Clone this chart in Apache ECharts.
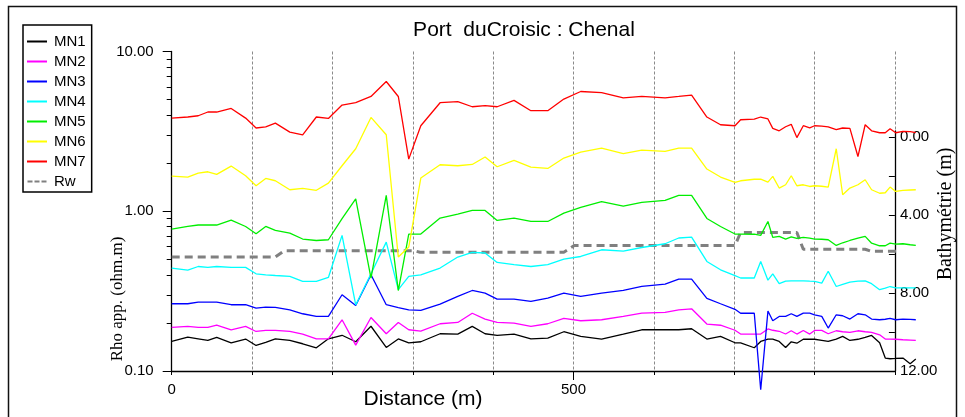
<!DOCTYPE html>
<html>
<head>
<meta charset="utf-8">
<script src="https://cdn.jsdelivr.net/npm/echarts@6/dist/echarts.min.js"></script>
<style>
html,body{margin:0;padding:0;background:#fff;}
#chart{width:965px;height:417px;}
</style>
</head>
<body>
<div id="chart"></div>
<script>
const chartTitle = 'Port  duCroisic : Chenal';
const seriesNames = ['MN1','MN2','MN3','MN4','MN5','MN6','MN7'];
const seriesColors = ['#000000','#ff00ff','#0000ff','#00ffff','#00ee00','#ffff00','#ff0000'];

const distance = [0,20,33,45,56,74,92,105,117,129,147,163,180,195,212,229,248,267,282,295,
310,334,356,374,390,405,426,447,468,488,509,535,562,585,614,631,647,666,683,701,
708,725,733,742,748,756,764,771,778,786,794,800,809,817,827,835,844,854,863,871,
881,888,894,901,910,919,926];

const mn1 = [0.1531,0.1627,0.1591,0.1553,0.1622,0.1502,0.1585,0.1445,0.1509,0.1587,
0.1553,0.1481,0.1398,0.1591,0.1674,0.1524,0.1906,0.1404,0.1587,0.1502,
0.1524,0.1711,0.1703,0.1901,0.1711,0.1669,0.1703,0.1591,0.1607,0.1761,
0.1646,0.1585,0.1703,0.1812,0.1812,0.1812,0.1838,0.1585,0.1646,0.1502,
0.1502,0.1398,0.1531,0.1585,0.1585,0.1531,0.1404,0.1524,0.1492,0.1580,
0.1580,0.1580,0.1557,0.1531,0.1585,0.1646,0.1553,0.1580,0.1622,0.1669,
0.1502,0.1205,0.1193,0.1198,0.1205,0.1110,0.1188];

const mn2 = [0.1873,0.1901,0.1873,0.1873,0.1939,0.1812,0.1901,0.1768,0.1794,0.1794,
0.1768,0.1703,0.1591,0.1591,0.2093,0.1453,0.2164,0.1711,0.2013,0.1812,
0.1778,0.1976,0.2013,0.2298,0.2114,0.2013,0.1996,0.1901,0.1976,0.2133,
0.2063,0.2093,0.2196,0.2305,0.2325,0.2416,0.2452,0.1967,0.1934,0.1799,
0.1703,0.1703,0.1703,0.1833,0.1799,0.1773,0.1705,0.1786,0.1703,0.1794,
0.1703,0.1794,0.1794,0.1711,0.1786,0.1761,0.1743,0.1786,0.1761,0.1743,
0.1686,0.1585,0.1585,0.1580,0.1569,0.1562,0.1553];

const mn3 = [0.2636,0.2636,0.2701,0.2701,0.2701,0.2599,0.2599,0.2478,0.2514,0.2500,
0.2416,0.2282,0.2196,0.2196,0.3001,0.2573,0.400,0.2599,0.2495,0.2416,
0.2393,0.2625,0.2928,0.3192,0.3075,0.2821,0.2821,0.2725,0.2862,0.3075,
0.2928,0.3075,0.3192,0.3383,0.3502,0.3763,0.3763,0.2845,0.2636,0.2434,
0.2298,0.2298,0.0763,0.2372,0.2063,0.2196,0.2196,0.2282,0.2196,0.2305,
0.2305,0.2249,0.2196,0.1857,0.2249,0.2217,0.2114,0.2282,0.2249,0.2114,
0.2093,0.2108,0.2133,0.2093,0.2114,0.2102,0.2093];

const mn4 = [0.441,0.428,0.451,0.445,0.451,0.445,0.445,0.406,0.400,0.396,
0.391,0.364,0.364,0.385,0.706,0.259,0.406,0.641,0.323,0.391,
0.400,0.441,0.517,0.552,0.548,0.478,0.463,0.451,0.463,0.502,
0.521,0.574,0.563,0.593,0.626,0.680,0.689,0.485,0.430,0.395,
0.382,0.382,0.485,0.370,0.406,0.352,0.365,0.367,0.367,0.367,
0.365,0.364,0.355,0.421,0.338,0.349,0.360,0.365,0.367,0.352,
0.323,0.330,0.338,0.331,0.331,0.331,0.331];

const mn5 = [0.774,0.803,0.820,0.820,0.820,0.881,0.803,0.723,0.803,0.758,
0.730,0.670,0.656,0.663,0.898,1.197,0.382,1.256,0.319,0.720,
0.720,0.907,0.961,1.012,1.012,0.876,0.907,0.863,0.863,0.974,
1.056,1.147,1.075,1.135,1.169,1.256,1.256,0.901,0.803,0.720,
0.720,0.718,0.706,0.863,0.686,0.696,0.670,0.692,0.676,0.686,
0.678,0.670,0.668,0.663,0.611,0.635,0.656,0.678,0.696,0.631,
0.608,0.608,0.632,0.623,0.626,0.617,0.611];

const mn6 = [1.661,1.637,1.734,1.767,1.700,1.918,1.668,1.444,1.605,1.552,
1.363,1.389,1.353,1.501,1.927,2.462,3.867,3.012,0.517,0.597,
1.614,1.955,1.927,1.963,2.184,1.899,2.080,1.891,1.853,2.153,
2.348,2.487,2.291,2.416,2.367,2.487,2.487,1.837,1.637,1.514,
1.552,1.586,1.591,1.523,1.652,1.397,1.465,1.668,1.444,1.465,
1.429,1.444,1.434,1.417,2.462,1.268,1.397,1.465,1.575,1.363,
1.296,1.306,1.417,1.330,1.350,1.358,1.363];

const mn7 = [3.83,3.89,3.96,4.18,4.18,4.40,3.83,3.32,3.37,3.56,
3.13,3.01,3.89,3.81,4.62,4.78,5.23,6.49,5.23,2.12,
3.43,4.78,4.85,4.51,4.59,4.51,4.94,4.26,4.26,5.04,
5.62,5.52,5.13,5.23,5.13,5.23,5.34,3.89,3.48,3.43,
3.74,3.77,3.89,3.78,3.30,3.19,3.38,3.50,2.89,3.43,
3.33,3.43,3.41,3.37,3.24,3.32,3.30,2.20,3.48,3.19,
3.10,3.10,3.28,3.10,3.16,3.15,3.11];

const rwDistance = [0,129,140,302,309,488,501,701,708,778,786,863,870,906];
const rwValues = [0.517,0.517,0.566,0.566,0.554,0.554,0.610,0.610,0.737,0.737,0.578,0.578,0.562,0.562];

const xLabelValues = [0, 500];
const leftMinorTicks = [0.2,0.3,0.4,0.5,0.6,0.7,0.8,0.9,2,3,4,5,6,7,8,9];
const bathyTicks = [0,2,4,6,8,10,12];
const bathyLabels = [0,4,8,12];

const mnValues = [mn1, mn2, mn3, mn4, mn5, mn6, mn7];

const SANS = 'Liberation Sans, Arial, sans-serif';
const SERIF = 'Liberation Serif, Times New Roman, serif';

// layout: visible axis frame spans 0..900 m; the data area is widened (same scale) so
// points beyond 900 m are drawn past the right axis, as in the original.
const axisMax = 900, dataMax = 940;
const plotLeft = 171.7, plotWidth = 723.2, plotTop = 51.5, plotBottom = 46;
const dataWidth = plotWidth * dataMax / axisMax;

const series = mnValues.map((vals, i) => ({
  name: seriesNames[i],
  type: 'line',
  xAxisIndex: 0, yAxisIndex: 0,
  data: distance.map((d, j) => [d, vals[j]]),
  symbol: 'none',
  clip: false,
  lineStyle: { color: seriesColors[i], width: 1.3 },
  itemStyle: { color: seriesColors[i] },
  animation: false,
  z: 3
}));
series.push({
  name: 'Rw',
  type: 'line',
  xAxisIndex: 0, yAxisIndex: 0,
  data: rwDistance.map((d, j) => [d, rwValues[j]]),
  symbol: 'none',
  clip: false,
  lineStyle: { color: '#808080', width: 3, type: [8, 5] },
  itemStyle: { color: '#808080' },
  animation: false,
  z: 2
});

const legendData = seriesNames.map(n => ({ name: n, icon: 'rect' }));
legendData.push({ name: 'Rw', icon: 'path://M0,0h5v2h-5z M7,0h5v2h-5z M14,0h5v2h-5z' });

const option = {
  backgroundColor: '#ffffff',
  animation: false,
  grid: [
    { left: plotLeft, width: dataWidth, top: plotTop, bottom: plotBottom },
    { left: plotLeft, width: plotWidth, top: plotTop, bottom: plotBottom },
    { left: plotLeft, width: plotWidth, top: 131, bottom: plotBottom }
  ],
  legend: {
    orient: 'vertical',
    left: 23, top: 25,
    data: legendData,
    selectedMode: false,
    borderColor: '#000', borderWidth: 1.5,
    padding: [9, 6, 3, 4],
    itemGap: 5,
    itemWidth: 20, itemHeight: 2,
    textStyle: { fontSize: 15, color: '#000', fontFamily: SANS, padding: [0, 0, 0, 2] }
  },
  xAxis: [
    { type: 'value', gridIndex: 0, min: 0, max: dataMax, show: false },
    {
      type: 'value', gridIndex: 1, min: 0, max: axisMax, interval: 100,
      axisLine: { show: true, onZero: false, lineStyle: { color: '#000', width: 1.3 } },
      axisTick: { show: true, length: 4, lineStyle: { color: '#000' } },
      axisLabel: { fontSize: 15, color: '#000', fontFamily: SANS, margin: 11,
        formatter: v => (xLabelValues.indexOf(v) >= 0 ? String(v) : '') },
      splitLine: { show: true, lineStyle: { color: '#8a8a8a', type: [3, 2], width: 1 } }
    },
    {
      type: 'value', gridIndex: 1, min: 0, max: axisMax, position: 'bottom',
      axisLine: { show: false },
      axisTick: { show: true, length: 9, customValues: [500], lineStyle: { color: '#000' } },
      axisLabel: { show: false },
      splitLine: { show: false }
    },
    { type: 'value', gridIndex: 2, min: 0, max: axisMax, show: false }
  ],
  yAxis: [
    {
      type: 'log', logBase: 10, gridIndex: 0, min: 0.1, max: 10, position: 'left',
      axisLine: { show: true, onZero: false, lineStyle: { color: '#000', width: 1.3 } },
      axisTick: { show: true, length: 9, lineStyle: { color: '#000' } },
      axisLabel: { fontSize: 15, color: '#000', fontFamily: SANS, margin: 18,
        formatter: v => Number(v).toFixed(2) },
      splitLine: { show: false }
    },
    {
      type: 'value', gridIndex: 0, min: -1, max: 1, position: 'left',
      axisLine: { show: false },
      axisTick: { show: true, length: 5, customValues: leftMinorTicks.map(v => Math.log10(v)), lineStyle: { color: '#000' } },
      axisLabel: { show: false },
      splitLine: { show: false }
    },
    { type: 'value', gridIndex: 1, min: 0, max: 1, show: false },
    {
      type: 'value', gridIndex: 2, min: -0.3, max: 12, inverse: true, position: 'right',
      axisLine: { show: true, onZero: false, lineStyle: { color: '#000', width: 1.3 } },
      axisTick: { show: true, inside: true, length: 6, customValues: bathyTicks, lineStyle: { color: '#000' } },
      axisLabel: { fontSize: 15, color: '#000', fontFamily: SANS, margin: 5,
        customValues: bathyLabels, formatter: v => Number(v).toFixed(2) },
      splitLine: { show: false }
    }
  ],
  graphic: [
    { type: 'rect', shape: { x: 8.5, y: 6.5, width: 948, height: 420 },
      style: { fill: 'none', stroke: '#111', lineWidth: 1.5 }, silent: true, z: 0 },
    { type: 'text', x: 524, y: 30,
      style: { text: chartTitle, fill: '#000', font: '21px ' + SANS, textAlign: 'center', textVerticalAlign: 'middle' } },
    { type: 'text', x: 423, y: 399,
      style: { text: 'Distance (m)', fill: '#000', font: '21px ' + SANS, textAlign: 'center', textVerticalAlign: 'middle' } },
    { type: 'text', x: 118, y: 299, rotation: Math.PI / 2,
      style: { text: 'Rho app. (ohm.m)', fill: '#000', font: '17px ' + SERIF, textAlign: 'center', textVerticalAlign: 'middle' } },
    { type: 'text', x: 946, y: 214, rotation: Math.PI / 2,
      style: { text: 'Bathymétrie (m)', fill: '#000', font: '20px ' + SERIF, textAlign: 'center', textVerticalAlign: 'middle' } }
  ],
  series: series
};

const chart = echarts.init(document.getElementById('chart'), null, { renderer: 'canvas' });
chart.setOption(option);
</script>
</body>
</html>
